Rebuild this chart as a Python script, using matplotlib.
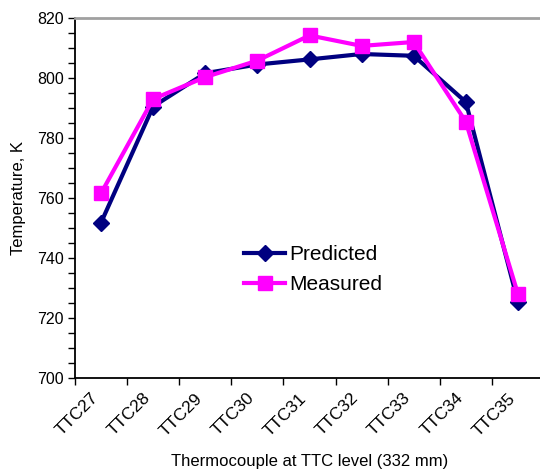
import matplotlib.pyplot as plt
from matplotlib.ticker import MultipleLocator

plt.rcParams['font.family'] = ['Liberation Sans', 'DejaVu Sans']

levels = ['TTC27', 'TTC28', 'TTC29', 'TTC30', 'TTC31',
          'TTC32', 'TTC33', 'TTC34', 'TTC35']
predicted = [751.8, 790.5, 801.6, 804.5, 806.2, 808.0, 807.4, 792.0, 725.3]
measured = [761.6, 793.0, 800.3, 805.8, 814.2, 810.7, 812.0, 785.4, 728.0]

fig = plt.figure(figsize=(5.4, 4.7), dpi=100)
ax = fig.add_axes([75 / 540, 92 / 470, 469 / 540, 360 / 470])

x = list(range(len(levels)))
ax.plot(x, predicted, color='#000080', lw=3, marker='D', ms=7.8,
        label='Predicted', zorder=3)
ax.plot(x, measured, color='#FF00FF', lw=3, marker='s', ms=10.5,
        label='Measured', zorder=4)

ax.set_xlim(-0.5, len(levels) - 0.5)
ax.set_ylim(700, 820)

# category labels centred, tick marks on the category boundaries
ax.set_xticks(x)
ax.set_xticklabels(levels, rotation=45, ha='right', va='top', fontsize=12.5)
ax.tick_params(axis='x', which='major', length=0, pad=9)
ax.set_xticks([i - 0.5 for i in range(len(levels) + 1)], minor=True)
ax.tick_params(axis='x', which='minor', length=5, width=1, direction='out')

ax.yaxis.set_major_locator(MultipleLocator(20))
ax.yaxis.set_minor_locator(MultipleLocator(5))
ax.tick_params(axis='y', which='both', length=5, width=1, direction='out',
               labelsize=11.5, pad=3)

ax.spines['top'].set_color('#a0a0a0')
ax.spines['top'].set_linewidth(2)
ax.spines['right'].set_visible(False)
ax.spines['left'].set_linewidth(1.3)
ax.spines['bottom'].set_linewidth(1.3)

ax.set_xlabel('Thermocouple at TTC level (332 mm)', fontsize=12, labelpad=11)
ax.set_ylabel('Temperature, K', fontsize=12, labelpad=8)

ax.legend(loc='upper left', bbox_to_anchor=(0.342, 0.392), frameon=False,
          fontsize=15, handlelength=2.0, handletextpad=0.2, labelspacing=0.54,
          borderaxespad=0)

fig.savefig('out.png', dpi=100)
